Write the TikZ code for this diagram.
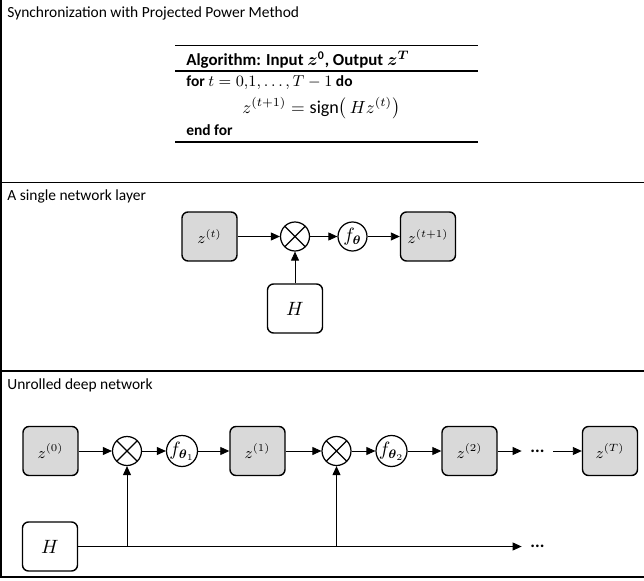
\documentclass[tikz,border=0pt]{standalone}
\usepackage{amsmath}
\usepackage{fontspec}
\setmainfont{Carlito}
\usetikzlibrary{arrows.meta}

\begin{document}
\begin{tikzpicture}[x=0.02cm,y=-0.02cm,
        state/.style={draw,rounded corners=0.12cm,line width=0.8pt,minimum width=1.1cm,minimum height=0.98cm,inner sep=0pt,font=\fontsize{9}{10}\selectfont},
        zstate/.style={state,fill=black!15},
        mult/.style={circle,draw,line width=0.7pt,minimum size=0.58cm,inner sep=0pt,
            path picture={\draw[line width=0.7pt] (path picture bounding box.north west) -- (path picture bounding box.south east)
                (path picture bounding box.south west) -- (path picture bounding box.north east);}},
        func/.style={circle,draw,line width=0.7pt,minimum size=0.58cm,inner sep=0pt,font=\fontsize{10.5}{12}\selectfont},
        conn/.style={-{Triangle[length=0.18cm,width=0.16cm]},line width=0.5pt},
        title/.style={anchor=west,inner sep=0pt,font=\fontsize{8.8}{10}\selectfont},
        dotsnode/.style={inner xsep=0.17cm,inner ysep=0pt,font=\fontsize{10}{12}\selectfont\bfseries},
    ]
    \useasboundingbox (0,0) rectangle (644,580);

    % frame and section lines
    \draw[line width=0.6pt] (1,0) -- (1,577) -- (644,577);
    \draw[line width=0.6pt] (1,182.5) -- (644,182.5);
    \draw[line width=0.6pt] (1,371) -- (644,371);

    \node[title] (ppmtitle) at (7,13) {Synchronization with Projected Power Method};
    \node[title] (layertitle) at (7,196) {A single network layer};
    \node[title] (deeptitle) at (7,385) {Unrolled deep network};

    % algorithm box
    \draw[line width=0.6pt] (175,45.5) -- (478,45.5);
    \draw[line width=0.6pt] (175,71) -- (478,71);
    \draw[line width=0.6pt] (175,142) -- (478,142);
    \node[title,font=\fontsize{9.6}{11}\selectfont] (algohead) at (186,60) {\textbf{Algorithm: Input $\boldsymbol{z}^{\mathbf{0}}$, Output $\boldsymbol{z}^{\boldsymbol{T}}$}};
    \node[title] (forrow) at (186,82.5) {\textbf{for} $t=0{,}1,\ldots,T-1$\ \textbf{do}};
    \node[title,font=\fontsize{10.3}{12}\selectfont] (updaterow) at (242,108.5) {$z^{(t+1)}=\operatorname{sign}\bigl(\,Hz^{(t)}\bigr)$};
    \node[title] (endrow) at (186,130) {\textbf{end for}};

    % single layer
    \node[zstate] (zt) at (209.5,236.5) {$z^{(t)}$};
    \node[mult] (mult) at (295,236.5) {};
    \node[func] (ftheta) at (352.5,236.5) {$f_{\boldsymbol{\theta}}$};
    \node[zstate] (ztnext) at (428,236.5) {$z^{(t+1)}$};
    \node[state,font=\fontsize{11}{12}\selectfont] (Hone) at (295,308.5) {$H$};

    \draw[conn] (zt) -- (mult);
    \draw[conn] (mult) -- (ftheta);
    \draw[conn] (ftheta) -- (ztnext);
    \draw[conn] (Hone) -- (mult);

    % unrolled network
    \node[zstate] (z0) at (50.5,451) {$z^{(0)}$};
    \node[mult] (multA) at (127,451) {};
    \node[func] (fA) at (182,451) {$f_{\boldsymbol{\theta}_1}$};
    \node[zstate] (z1) at (257.5,451) {$z^{(1)}$};
    \node[mult] (multB) at (336.5,451) {};
    \node[func] (fB) at (391.5,451) {$f_{\boldsymbol{\theta}_2}$};
    \node[zstate] (z2) at (469.5,451) {$z^{(2)}$};
    \node[dotsnode] (dotsA) at (537.5,451) {...};
    \node[zstate] (zT) at (610,451) {$z^{(T)}$};
    \node[state,font=\fontsize{11}{12}\selectfont] (Hdeep) at (50,546.5) {$H$};
    \node[dotsnode] (dotsB) at (537.5,546.5) {...};

    \draw[conn] (z0) -- (multA);
    \draw[conn] (multA) -- (fA);
    \draw[conn] (fA) -- (z1);
    \draw[conn] (z1) -- (multB);
    \draw[conn] (multB) -- (fB);
    \draw[conn] (fB) -- (z2);
    \draw[conn] (z2) -- (dotsA);
    \draw[conn] (dotsA) -- (zT);
    \draw[conn] (Hdeep) -- (dotsB);
    \draw[conn] (multA |- Hdeep) -- (multA);
    \draw[conn] (multB |- Hdeep) -- (multB);
\end{tikzpicture}
\end{document}
